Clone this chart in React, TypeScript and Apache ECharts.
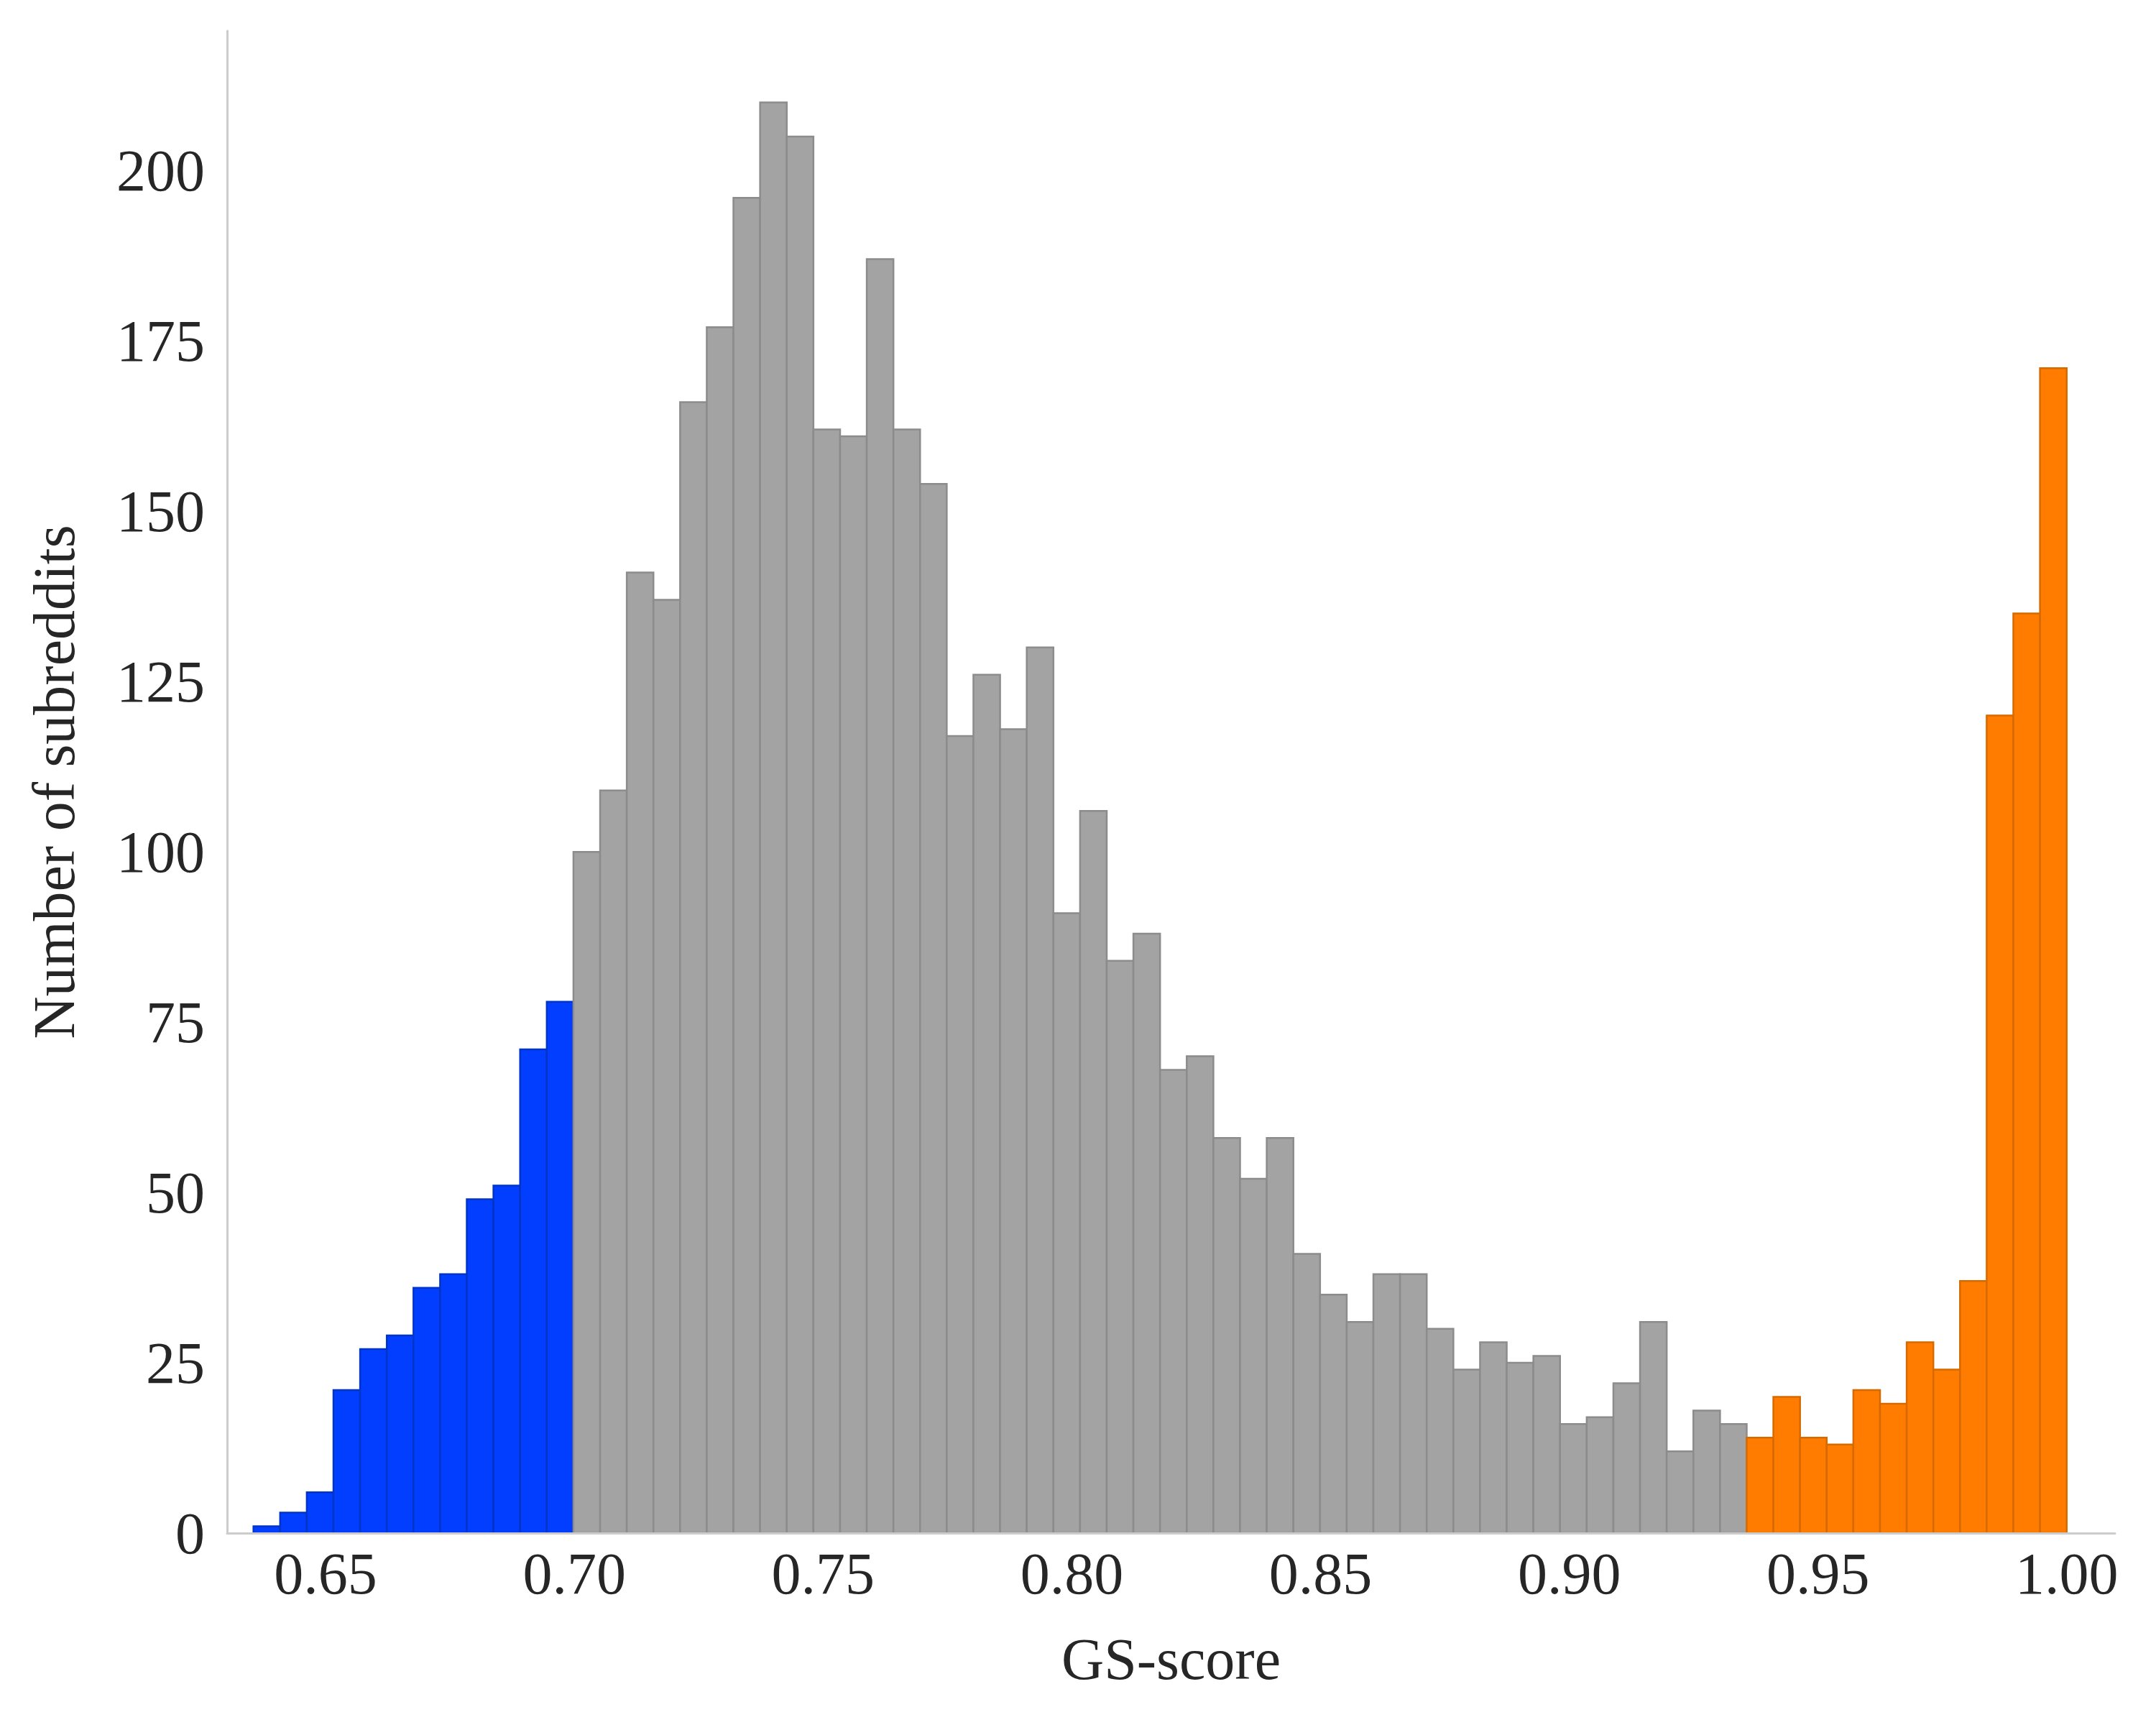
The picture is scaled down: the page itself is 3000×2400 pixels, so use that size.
import React, { useEffect, useRef } from "react";
import * as echarts from "echarts";

// Histogram of GS-score (68 equal-width bins from the data's minimum to maximum)
const binStart = 0.6355;
const binWidth = 0.00536;

const lowCounts = [1, 3, 6, 21, 27, 29, 36, 38, 49, 51, 71, 78];
const midCounts = [
  100, 109, 141, 137, 166, 177, 196, 210, 205, 162, 161, 187, 162, 154, 117,
  126, 118, 130, 91, 106, 84, 88, 68, 70, 58, 52, 58, 41, 35, 31, 38, 38, 30,
  24, 28, 25, 26, 16, 17, 22, 31, 12, 18, 16,
];
const highCounts = [14, 20, 14, 13, 21, 19, 28, 24, 37, 120, 135, 171];

const xTicks = [0.65, 0.7, 0.75, 0.8, 0.85, 0.9, 0.95, 1.0];
const yTicks = [0, 25, 50, 75, 100, 125, 150, 175, 200];

const FONT = "'Liberation Serif', 'Times New Roman', serif";
const TEXT = "#262626";

function toBins(counts: number[], offset: number) {
  return counts.map((c, i) => {
    const x0 = binStart + (offset + i) * binWidth;
    return [x0, x0 + binWidth, c];
  });
}

function histSeries(data: number[][], fill: string, stroke: string) {
  return {
    type: "custom",
    data,
    encode: { x: [0, 1], y: 2 },
    renderItem: (params: any, api: any) => {
      const p0 = api.coord([api.value(0), api.value(2)]);
      const p1 = api.coord([api.value(1), 0]);
      return {
        type: "rect",
        shape: { x: p0[0], y: p0[1], width: p1[0] - p0[0], height: p1[1] - p0[1] },
        style: { fill, stroke, lineWidth: 2.5 },
      };
    },
  };
}

export default function App() {
  const ref = useRef<HTMLDivElement>(null);
  useEffect(() => {
    if (!ref.current) return;
    const chart = echarts.init(ref.current, null, { renderer: "svg" });
    const lowData = toBins(lowCounts, 0);
    const midData = toBins(midCounts, lowCounts.length);
    const highData = toBins(highCounts, lowCounts.length + midCounts.length);
    chart.setOption({
      animation: false,
      backgroundColor: "#ffffff",
      grid: { left: 316, top: 43, right: 57, bottom: 267 },
      xAxis: {
        type: "value",
        min: 0.6302,
        max: 1.0097,
        z: 10,
        axisLine: { show: true, onZero: false, lineStyle: { color: "#cccccc", width: 3 } },
        axisTick: { show: false },
        splitLine: { show: false },
        axisLabel: {
          customValues: xTicks,
          formatter: (v: number) => v.toFixed(2),
          fontSize: 82,
          fontFamily: FONT,
          color: TEXT,
          margin: 15,
        },
        name: "GS-score",
        nameLocation: "middle",
        nameGap: 134,
        nameTextStyle: { fontSize: 82, fontFamily: FONT, color: TEXT },
      },
      yAxis: {
        type: "value",
        min: 0,
        max: 220.5,
        z: 10,
        axisLine: { show: true, lineStyle: { color: "#cccccc", width: 3 } },
        axisTick: { show: false },
        splitLine: { show: false },
        axisLabel: {
          customValues: yTicks,
          fontSize: 82,
          fontFamily: FONT,
          color: TEXT,
          margin: 31,
        },
        name: "Number of subreddits",
        nameLocation: "middle",
        nameGap: 200,
        nameRotate: 90,
        nameTextStyle: { fontSize: 82, fontFamily: FONT, color: TEXT },
      },
      series: [
        histSeries(lowData, "#023eff", "#0334c8"),
        histSeries(midData, "#a3a3a3", "#8c8c8c"),
        histSeries(highData, "#ff7c00", "#d66a00"),
      ],
    });
    return () => chart.dispose();
  }, []);
  return (
    <div
      ref={ref}
      style={{ position: "absolute", left: 0, top: 0, width: 3000, height: 2400 }}
    />
  );
}
